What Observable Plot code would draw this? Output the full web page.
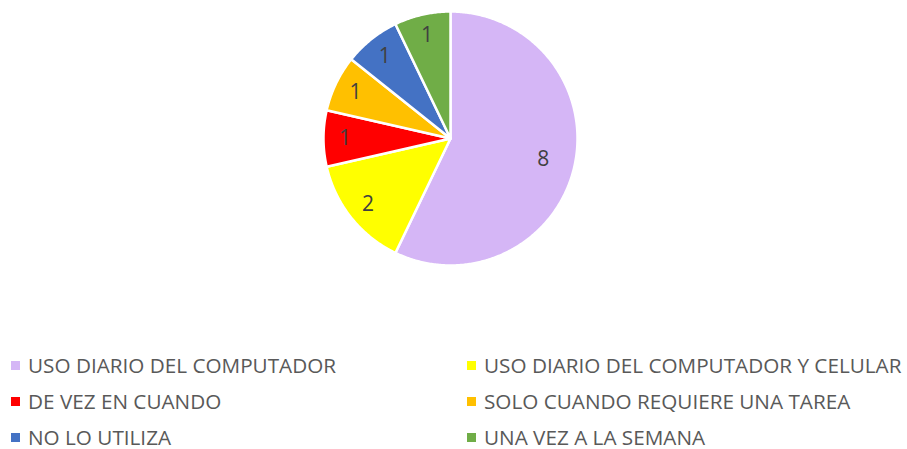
<!DOCTYPE html>
<html><head><meta charset="utf-8">
<script src="https://cdn.jsdelivr.net/npm/d3@7"></script>
<script src="https://cdn.jsdelivr.net/npm/@observablehq/plot@0.6"></script>
<style>
body{margin:0;background:#fff;font-family:"Open Sans",sans-serif;overflow:hidden;}
#legend{display:grid;grid-template-columns:456px 451px;grid-auto-rows:36px;padding-top:7px;}
.item{display:flex;align-items:center;color:#595959;font-size:20.7px;white-space:nowrap;}
.item span.t{line-height:17px;}
.sw{width:9px;height:9px;margin-left:11px;margin-right:8px;flex:none;}
</style></head><body>
<div id="chart"></div>
<div id="legend"></div>
<script>
const categories = ["USO DIARIO DEL COMPUTADOR","USO DIARIO DEL COMPUTADOR Y CELULAR","DE VEZ EN CUANDO","SOLO CUANDO REQUIERE UNA TAREA","NO LO UTILIZA","UNA VEZ A LA SEMANA"];
const values = [8,2,1,1,1,1];
const colors = ["#D5B6F6","#FFFF00","#FF0000","#FFC000","#4472C4","#70AD47"];

const total = d3.sum(values);
const slices = [];
const labels = [];
let acc = 0;
values.forEach((v,i)=>{
  const a0 = acc/total*2*Math.PI, a1 = (acc+v)/total*2*Math.PI;
  acc += v;
  const n = Math.max(4, Math.ceil((a1-a0)/0.01));
  slices.push({cat:categories[i], x:0, y:0});
  for (let k=0;k<=n;k++){
    const a = a0 + (a1-a0)*k/n;
    slices.push({cat:categories[i], x:Math.sin(a), y:Math.cos(a)});
  }
  slices.push({cat:categories[i], x:0, y:0});
  const m = (a0+a1)/2;
  const f = v/total > 0.5 ? 0.75 : 0.83;
  labels.push({cat:categories[i], v, x:f*Math.sin(m), y:f*Math.cos(m)});
});

const R = 127, cx = 450, cy = 138;
const chart = Plot.plot({
  width: 907, height: 340, margin: 0,
  x: {domain:[-1,1], range:[cx-R, cx+R], axis:null},
  y: {domain:[-1,1], range:[cy+R, cy-R], axis:null},
  color: {domain: categories, range: colors},
  marks: [
    Plot.line(slices, {x:"x", y:"y", z:"cat", fill:"cat", stroke:"white", strokeWidth:2.5, curve:"linear", strokeLinejoin:"round"}),
    Plot.text(labels, {x:"x", y:"y", text:d=>String(d.v), fill:"#404040", fontSize:21, fontFamily:"Open Sans"})
  ]
});
document.getElementById("chart").appendChild(chart);

const leg = document.getElementById("legend");
categories.forEach((c,i)=>{
  const d = document.createElement("div"); d.className="item";
  d.innerHTML = `<span class="sw" style="background:${colors[i]}"></span><span class="t">${c}</span>`;
  leg.appendChild(d);
});
</script></body></html>
